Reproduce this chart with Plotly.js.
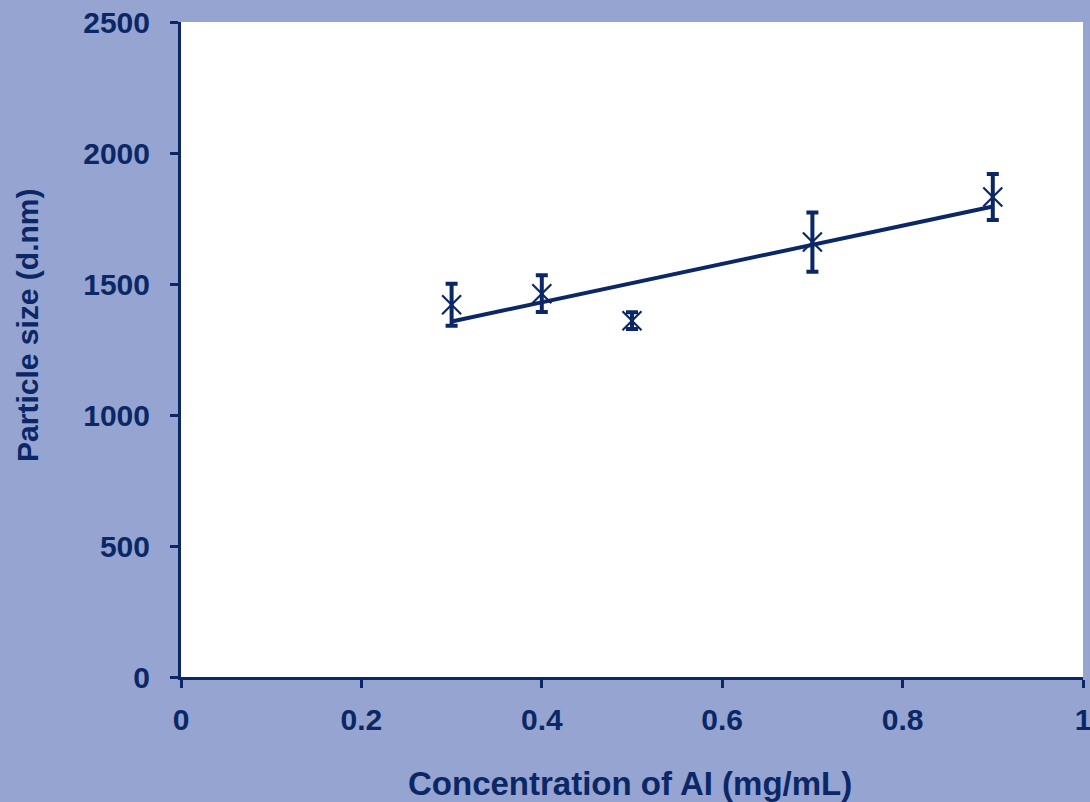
<!DOCTYPE html>
<html>
<head>
<meta charset="utf-8">
<script src="https://cdn.plot.ly/plotly-3.0.1.min.js"></script>
<style>html,body{margin:0;padding:0;background:#95A4D1;}#chart{width:1090px;height:802px;}</style>
</head>
<body>
<div id="chart"></div>
<script>
const concentration = [0.3, 0.4, 0.5, 0.7, 0.9];
const particleSize = [1421, 1463, 1360, 1660, 1832];
const sizeError = [80, 70, 32, 113, 88];
const trendX = [0.3, 0.9];
const trendY = [1357, 1796];
const xTickVals = [0, 0.2, 0.4, 0.6, 0.8, 1];
const xTickText = ['0', '0.2', '0.4', '0.6', '0.8', '1'];
const yTickVals = [0, 500, 1000, 1500, 2000, 2500];
const yTickText = ['0', '500', '1000', '1500', '2000', '2500'];
const xTitle = 'Concentration of AI (mg/mL)';
const yTitle = 'Particle size (d.nm)';

const navy = '#0B2765';
const fam = 'Liberation Sans, Arial, sans-serif';
const tickFont = {family: fam, size: 30, color: navy, weight: 'bold'};
const xTitleFont = {family: fam, size: 33, color: navy, weight: 'bold'};
const yTitleFont = {family: fam, size: 30, color: navy, weight: 'bold'};

const data = [
  {
    x: trendX, y: trendY, type: 'scatter', mode: 'lines',
    line: {color: navy, width: 4}, hoverinfo: 'skip', showlegend: false
  },
  {
    x: concentration, y: particleSize, type: 'scatter', mode: 'markers',
    marker: {symbol: 'x-thin-open', size: 19, color: navy, line: {color: navy, width: 2.2}},
    error_y: {type: 'data', array: sizeError, visible: true, color: navy, thickness: 4, width: 6},
    showlegend: false
  }
];

const layout = {
  width: 1090, height: 802,
  paper_bgcolor: '#95A4D1', plot_bgcolor: '#FFFFFF',
  margin: {l: 181, r: 7, t: 22, b: 125},
  font: tickFont,
  xaxis: {
    range: [0, 1], tickvals: xTickVals, ticktext: xTickText,
    showgrid: false, zeroline: false, showline: true, linecolor: navy, linewidth: 3,
    ticks: 'outside', ticklen: 8, tickwidth: 3, tickcolor: navy,
    tickfont: tickFont, ticklabelstandoff: 6, ticklabeloverflow: 'allow'
  },
  yaxis: {
    range: [0, 2500], tickvals: yTickVals, ticktext: yTickText,
    showgrid: false, zeroline: false, showline: true, linecolor: navy, linewidth: 3,
    ticks: 'outside', ticklen: 8, tickwidth: 3, tickcolor: navy,
    tickfont: tickFont, ticklabelstandoff: 14, ticklabeloverflow: 'allow'
  },
  annotations: [
    {text: xTitle, xref: 'paper', yref: 'paper', x: 0.498, y: -0.162,
     xanchor: 'center', yanchor: 'middle', showarrow: false, font: xTitleFont},
    {text: yTitle, xref: 'paper', yref: 'paper', x: -0.1696, y: 0.536, textangle: -90,
     xanchor: 'center', yanchor: 'middle', showarrow: false, font: yTitleFont}
  ]
};

Plotly.newPlot('chart', data, layout, {displayModeBar: false, staticPlot: true});
</script>
</body>
</html>
